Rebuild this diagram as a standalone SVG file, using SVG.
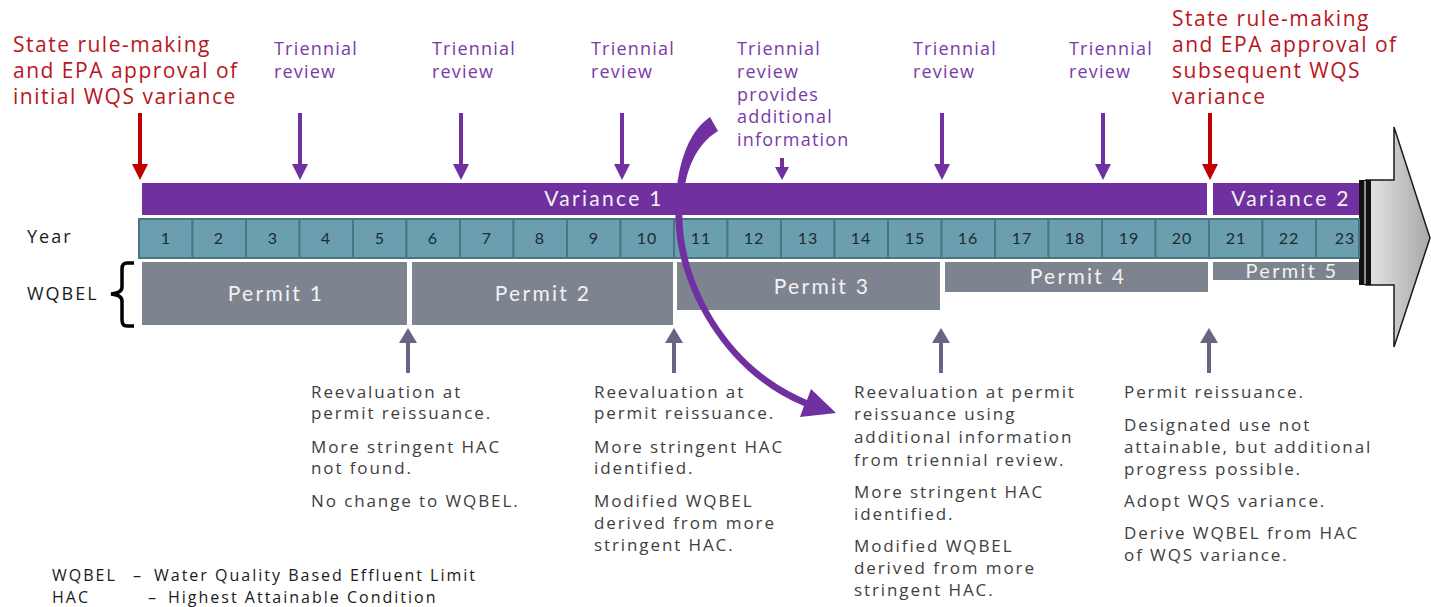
<svg xmlns="http://www.w3.org/2000/svg" width="1431" height="607" viewBox="0 0 1431 607">
<defs>
<style>
.red{font-family:"Open Sans","Liberation Sans",sans-serif;font-size:21px;letter-spacing:1.5px;fill:#b8161c}
.pur{font-family:"Open Sans","Liberation Sans",sans-serif;font-size:18px;letter-spacing:1.2px;fill:#7a3aa8}
.lbl{font-family:"Open Sans","Liberation Sans",sans-serif;font-size:17px;letter-spacing:1.9px;fill:#404040}
.side{font-family:"Open Sans","Liberation Sans",sans-serif;font-size:18px;letter-spacing:2px;fill:#1a1a1a}
.leg{font-family:"Open Sans","Liberation Sans",sans-serif;font-size:16px;letter-spacing:2px;fill:#1a1a1a}
.box{font-family:Lato,"Open Sans",sans-serif;font-size:21px;fill:#f2f2f2;text-anchor:middle;letter-spacing:2.3px}
.yr{font-family:Lato,"Open Sans",sans-serif;font-size:16px;letter-spacing:1px;fill:#1d2b33;text-anchor:middle}
.var{fill:#7030a0}
.permit{fill:#7e848f}
.cell{fill:#6b9eae;stroke:#4a7683;stroke-width:2}
.up{fill:#676484}
.pdown{fill:#7030a0}
.rdown{fill:#c00000}
</style>
<linearGradient id="g" x1="0" y1="0" x2="1" y2="0"><stop offset="0" stop-color="#e6e6e6"/><stop offset="1" stop-color="#a8a8a8"/></linearGradient>
</defs>
<rect width="1431" height="607" fill="#ffffff"/>

<g id="big-arrow">
<polygon points="1366,180 1394,180 1394,127 1430,238 1394,347 1394,285 1366,285" fill="url(#g)" stroke="#1a1a1a" stroke-width="1.5"/>
<rect x="1359" y="180" width="12" height="105" fill="#111"/>
<line x1="1365" y1="181" x2="1365" y2="284" stroke="#bbb" stroke-width="1.5"/>
</g>

<g id="variance-bars">
<rect class="var" x="142" y="183" width="1065" height="32"/>
<text class="box" x="604" y="206">Variance 1</text>
<rect class="var" x="1213" y="183" width="146" height="32"/>
<text class="box" x="1291" y="206">Variance 2</text>
</g>

<g id="years">
<text class="side" x="27" y="243">Year</text>
<g>
<rect class="cell" x="139" y="219" width="53.5" height="39"/>
<rect class="cell" x="192.5" y="219" width="53.5" height="39"/>
<rect class="cell" x="246" y="219" width="53.5" height="39"/>
<rect class="cell" x="299.5" y="219" width="53.5" height="39"/>
<rect class="cell" x="353" y="219" width="53.5" height="39"/>
<rect class="cell" x="406.5" y="219" width="53.5" height="39"/>
<rect class="cell" x="460" y="219" width="53.5" height="39"/>
<rect class="cell" x="513.5" y="219" width="53.5" height="39"/>
<rect class="cell" x="567" y="219" width="53.5" height="39"/>
<rect class="cell" x="620.5" y="219" width="53.5" height="39"/>
<rect class="cell" x="674" y="219" width="53.5" height="39"/>
<rect class="cell" x="727.5" y="219" width="53.5" height="39"/>
<rect class="cell" x="781" y="219" width="53.5" height="39"/>
<rect class="cell" x="834.5" y="219" width="53.5" height="39"/>
<rect class="cell" x="888" y="219" width="53.5" height="39"/>
<rect class="cell" x="941.5" y="219" width="53.5" height="39"/>
<rect class="cell" x="995" y="219" width="53.5" height="39"/>
<rect class="cell" x="1048.5" y="219" width="53.5" height="39"/>
<rect class="cell" x="1102" y="219" width="53.5" height="39"/>
<rect class="cell" x="1155.5" y="219" width="53.5" height="39"/>
<rect class="cell" x="1209" y="219" width="53.5" height="39"/>
<rect class="cell" x="1262.5" y="219" width="53.5" height="39"/>
<rect class="cell" x="1316" y="219" width="43" height="39"/>
</g>
<g>
<text class="yr" x="166" y="244">1</text>
<text class="yr" x="219" y="244">2</text>
<text class="yr" x="273" y="244">3</text>
<text class="yr" x="326" y="244">4</text>
<text class="yr" x="380" y="244">5</text>
<text class="yr" x="433" y="244">6</text>
<text class="yr" x="487" y="244">7</text>
<text class="yr" x="540" y="244">8</text>
<text class="yr" x="594" y="244">9</text>
<text class="yr" x="647" y="244">10</text>
<text class="yr" x="701" y="244">11</text>
<text class="yr" x="754" y="244">12</text>
<text class="yr" x="808" y="244">13</text>
<text class="yr" x="861" y="244">14</text>
<text class="yr" x="915" y="244">15</text>
<text class="yr" x="968" y="244">16</text>
<text class="yr" x="1022" y="244">17</text>
<text class="yr" x="1075" y="244">18</text>
<text class="yr" x="1129" y="244">19</text>
<text class="yr" x="1182" y="244">20</text>
<text class="yr" x="1236" y="244">21</text>
<text class="yr" x="1289" y="244">22</text>
<text class="yr" x="1345" y="244">23</text>
</g>
</g>

<g id="permits">
<text class="side" x="27" y="300">WQBEL</text>
<path d="M134,263 L127,263 Q122,263 122,269 L122,287 Q122,293 111,294 Q122,295 122,301 L122,320 Q122,326 127,326 L134,326" fill="none" stroke="#000" stroke-width="3.5"/>
<rect class="permit" x="142" y="262" width="265" height="63"/>
<text class="box" x="276" y="301">Permit 1</text>
<rect class="permit" x="412" y="262" width="261" height="63"/>
<text class="box" x="543" y="301">Permit 2</text>
<rect class="permit" x="677" y="262" width="263" height="48"/>
<text class="box" x="822" y="294">Permit 3</text>
<rect class="permit" x="945" y="262" width="263" height="30"/>
<text class="box" x="1078" y="284">Permit 4</text>
<rect class="permit" x="1213" y="262" width="146" height="18"/>
<text class="box" x="1292" y="278" style="font-size:20px">Permit 5</text>
</g>

<g id="top-labels">
<g class="red">
<text x="13" y="52">State rule-making</text>
<text x="13" y="78">and EPA approval of</text>
<text x="13" y="104">initial WQS variance</text>
</g>
<g class="red">
<text x="1172" y="26">State rule-making</text>
<text x="1172" y="52">and EPA approval of</text>
<text x="1172" y="78">subsequent  WQS</text>
<text x="1172" y="104">variance</text>
</g>
<g class="pur">
<text x="274" y="55">Triennial</text><text x="274" y="78">review</text>
<text x="432" y="55">Triennial</text><text x="432" y="78">review</text>
<text x="591" y="55">Triennial</text><text x="591" y="78">review</text>
<text x="737" y="55">Triennial</text><text x="737" y="78">review</text><text x="737" y="101">provides</text><text x="737" y="123">additional</text><text x="737" y="146">information</text>
<text x="913" y="55">Triennial</text><text x="913" y="78">review</text>
<text x="1069" y="55">Triennial</text><text x="1069" y="78">review</text>
</g>
</g>

<g id="connectors">
<g class="rdown">
<rect x="138" y="113" width="4" height="52"/><polygon points="132,164 148,164 140,180"/>
<rect x="1208" y="113" width="4" height="52"/><polygon points="1202,164 1218,164 1210,180"/>
</g>
<g class="pdown">
<rect x="298" y="113" width="4" height="52"/><polygon points="292,164 308,164 300,180"/>
<rect x="459" y="113" width="4" height="52"/><polygon points="453,164 469,164 461,180"/>
<rect x="620" y="113" width="4" height="52"/><polygon points="614,164 630,164 622,180"/>
<rect x="940" y="113" width="4" height="52"/><polygon points="934,164 950,164 942,180"/>
<rect x="1101" y="113" width="4" height="52"/><polygon points="1095,164 1111,164 1103,180"/>
<rect x="780" y="158" width="4" height="10"/><polygon points="775,167 789,167 782,180"/>
</g>
<g class="up">
<rect x="406" y="342" width="4" height="31"/><polygon points="399,343 417,343 408,328"/>
<rect x="672" y="342" width="4" height="31"/><polygon points="665,343 683,343 674,328"/>
<rect x="939" y="342" width="4" height="31"/><polygon points="932,343 950,343 941,328"/>
<rect x="1207" y="342" width="4" height="31"/><polygon points="1200,343 1218,343 1209,328"/>
</g>
<path class="pdown" d="M710,117 C686,133 674.5,172 675.5,220 C677,285 723,373 804,406 L800,417 L836,413 L811,389 L807,400 C727,367 684,284 682.5,220 C681.5,178 693,146 718,131 Z"/>
</g>

<g id="notes" class="lbl">
<text x="311" y="398">Reevaluation at</text>
<text x="311" y="419">permit reissuance.</text>
<text x="311" y="453">More stringent HAC</text>
<text x="311" y="474">not found.</text>
<text x="311" y="507">No change to WQBEL.</text>

<text x="594" y="398">Reevaluation at</text>
<text x="594" y="419">permit reissuance.</text>
<text x="594" y="453">More stringent HAC</text>
<text x="594" y="474">identified.</text>
<text x="594" y="507">Modified WQBEL</text>
<text x="594" y="529">derived from more</text>
<text x="594" y="551">stringent HAC.</text>

<text x="854" y="398">Reevaluation at permit</text>
<text x="854" y="420">reissuance using</text>
<text x="854" y="443">additional information</text>
<text x="854" y="466">from triennial review.</text>
<text x="854" y="498">More stringent HAC</text>
<text x="854" y="520">identified.</text>
<text x="854" y="552">Modified WQBEL</text>
<text x="854" y="574">derived from more</text>
<text x="854" y="596">stringent HAC.</text>

<text x="1124" y="398">Permit reissuance.</text>
<text x="1124" y="431">Designated use not</text>
<text x="1124" y="453">attainable, but additional</text>
<text x="1124" y="475">progress possible.</text>
<text x="1124" y="507">Adopt WQS variance.</text>
<text x="1124" y="539">Derive WQBEL from HAC</text>
<text x="1124" y="561">of WQS variance.</text>
</g>

<g id="legend" class="leg">
<text x="52" y="581">WQBEL</text><text x="133" y="581">–</text><text x="154" y="581">Water Quality Based Effluent Limit</text>
<text x="52" y="603">HAC</text><text x="148" y="603">–</text><text x="168" y="603">Highest Attainable Condition</text>
</g>
</svg>
